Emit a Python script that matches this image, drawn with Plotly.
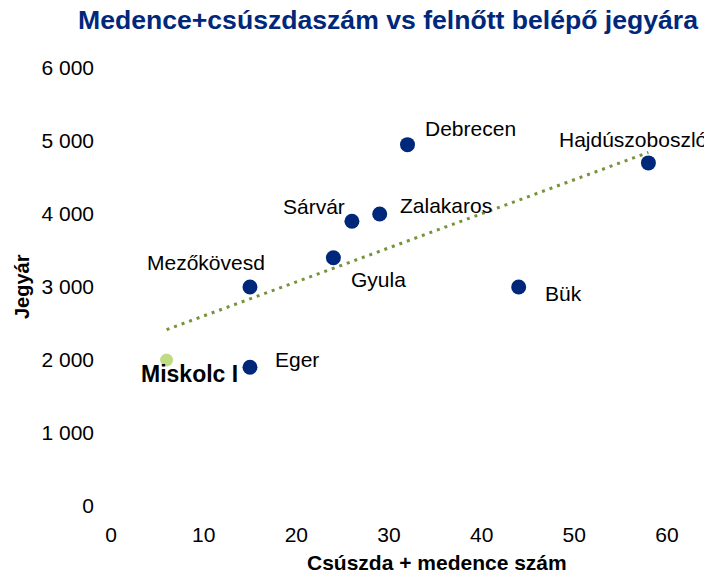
import numpy as np
import plotly.graph_objects as go

# ---- data ----
cities = ["Debrecen", "Hajdúszoboszló", "Sárvár", "Zalakaros", "Gyula",
          "Mezőkövesd", "Bük", "Eger"]
slides_pools = [32, 58, 26, 29, 24, 15, 44, 15]
ticket_price = [4950, 4700, 3900, 4000, 3400, 3000, 3000, 1900]

focus_city = "Miskolc I"
focus_x = [6]
focus_y = [2000]

x_ticks = [0, 10, 20, 30, 40, 50, 60]
x_tick_labels = ["0", "10", "20", "30", "40", "50", "60"]
y_ticks = [0, 1000, 2000, 3000, 4000, 5000, 6000]
y_tick_labels = ["0", "1 000", "2 000", "3 000", "4 000", "5 000", "6 000"]

title_text = "Medence+csúszdaszám vs felnőtt belépő jegyára"
x_title = "Csúszda + medence szám"
y_title = "Jegyár"

# ---- styles ----
FONT = "Liberation Sans, Arial, sans-serif"
DARK_BLUE = "#00287A"
LIGHT_GREEN = "#C0DB82"
TREND_GREEN = "#77933C"

label_style = {
    "Debrecen": ("left", 15, 16),
    "Hajdúszoboszló": ("left", -91, 23),
    "Sárvár": ("right", -5, 15),
    "Zalakaros": ("left", 18, 9),
    "Gyula": ("left", 16, -22),
    "Mezőkövesd": ("center", -44, 25),
    "Bük": ("left", 24, -6),
    "Eger": ("left", 23, 8),
}

fig = go.Figure()

# trendline (linear fit over all points)
all_x = np.array(slides_pools + focus_x, dtype=float)
all_y = np.array(ticket_price + focus_y, dtype=float)
slope, intercept = np.polyfit(all_x, all_y, 1)
tx = np.array([all_x.min(), all_x.max()])
fig.add_trace(go.Scatter(
    x=tx, y=slope * tx + intercept, mode="lines",
    line=dict(color=TREND_GREEN, width=3, dash="3px,5px"),
    hoverinfo="skip", showlegend=False))

fig.add_trace(go.Scatter(
    x=slides_pools, y=ticket_price, mode="markers",
    marker=dict(color=DARK_BLUE, size=15, line=dict(width=0)),
    text=cities, showlegend=False))

fig.add_trace(go.Scatter(
    x=focus_x, y=focus_y, mode="markers",
    marker=dict(color=LIGHT_GREEN, size=13, line=dict(width=0)),
    text=[focus_city], showlegend=False))

annotations = []
for name, xv, yv in zip(cities, slides_pools, ticket_price):
    anchor, dx, dy = label_style[name]
    annotations.append(dict(
        x=xv, y=yv, xref="x", yref="y", text=name, showarrow=False,
        xanchor=anchor, yanchor="middle", xshift=dx, yshift=dy,
        font=dict(family=FONT, size=21, color="#000000")))

annotations.append(dict(
    x=focus_x[0], y=focus_y[0], xref="x", yref="y", text=focus_city,
    showarrow=False, xanchor="right", yanchor="middle", xshift=73, yshift=-14,
    font=dict(family=FONT, size=23, color="#000000", weight="bold")))

annotations.append(dict(
    x=0, y=0.5, xref="paper", yref="paper", text=y_title, showarrow=False,
    textangle=-90, xanchor="center", yanchor="middle", xshift=-89,
    font=dict(family=FONT, size=20, color="#000000", weight="bold")))

annotations.append(dict(
    x=(437 - 111) / 593, y=0, xref="paper", yref="paper", text=x_title,
    showarrow=False, xanchor="center", yanchor="middle", yshift=-56,
    font=dict(family=FONT, size=21, color="#000000", weight="bold")))

fig.update_layout(
    width=704, height=574,
    margin=dict(l=111, r=0, t=68, b=68, pad=0),
    paper_bgcolor="white", plot_bgcolor="white",
    font=dict(family=FONT, size=21, color="#000000"),
    title=dict(text=title_text, xref="container", yref="container",
               x=388 / 704, y=1 - 20 / 574, xanchor="center", yanchor="middle",
               font=dict(family=FONT, size=26.6, color=DARK_BLUE, weight="bold")),
    annotations=annotations,
    showlegend=False,
)

fig.update_xaxes(range=[0, 64], tickvals=x_ticks, ticktext=x_tick_labels,
                 showgrid=False, zeroline=False, showline=False, ticks="",
                 ticklabelstandoff=14, tickfont=dict(family=FONT, size=21))
fig.update_yaxes(range=[0, 6000], tickvals=y_ticks, ticktext=y_tick_labels,
                 showgrid=False, zeroline=False, showline=False, ticks="",
                 ticklabelstandoff=16, tickfont=dict(family=FONT, size=21))

fig.write_html(
    "out.html",
    config={"displayModeBar": False},
    post_script="document.body.style.margin='0';document.body.style.overflow='hidden';",
)
